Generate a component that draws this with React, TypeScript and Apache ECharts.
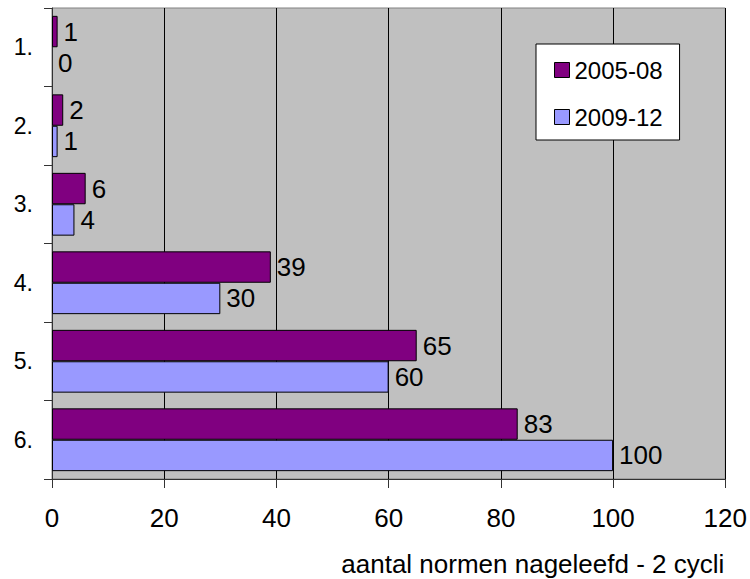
import React, { useEffect, useRef } from "react";
import * as echarts from "echarts";

const categories = ["1.", "2.", "3.", "4.", "5.", "6."];
const series2005 = [1, 2, 6, 39, 65, 83];
const series2009 = [0, 1, 4, 30, 60, 100];
const seriesNames = ["2005-08", "2009-12"];
const xAxisName = "aantal normen nageleefd - 2 cycli";

const FONT = "'Liberation Sans', Arial, sans-serif";

const toData = (arr: number[]) =>
  arr.map((v) => (v === 0 ? { value: v, itemStyle: { borderWidth: 0 } } : v));

export default function App() {
  const ref = useRef<HTMLDivElement>(null);
  useEffect(() => {
    if (!ref.current) return;
    const chart = echarts.init(ref.current, undefined, { renderer: "svg" });
    const labelStyle = {
      show: true,
      position: "right" as const,
      distance: 6,
      color: "#000",
      fontSize: 26,
      fontFamily: FONT,
    };
    chart.setOption({
      animation: false,
      backgroundColor: "#fff",
      textStyle: { fontFamily: FONT },
      grid: {
        left: 52,
        top: 8,
        right: 24,
        bottom: 100,
        show: true,
        backgroundColor: "#C0C0C0",
        borderColor: "#808080",
        borderWidth: 1,
      },
      legend: {
        orient: "vertical",
        left: 536,
        top: 44,
        padding: [14, 17, 11, 18],
        itemGap: 23,
        itemWidth: 15,
        itemHeight: 15,
        backgroundColor: "#fff",
        borderColor: "#000",
        borderWidth: 1,
        icon: "rect",
        itemStyle: { borderColor: "#000", borderWidth: 1 },
        textStyle: { fontSize: 24, lineHeight: 24, color: "#000", fontFamily: FONT },
        data: seriesNames,
      },
      xAxis: {
        type: "value",
        min: 0,
        max: 120,
        interval: 20,
        name: xAxisName,
        nameLocation: "end",
        nameGap: -1,
        nameTextStyle: {
          align: "right",
          verticalAlign: "top",
          fontSize: 26,
          color: "#000",
          fontFamily: FONT,
          padding: [72, 0, 0, 0],
        },
        axisLine: { show: true, lineStyle: { color: "#333", width: 1 } },
        axisTick: { show: true, length: 9, lineStyle: { color: "#333" } },
        axisLabel: { fontSize: 26, color: "#000", margin: 26, fontFamily: FONT },
        splitLine: { show: true, lineStyle: { color: "#000", width: 1 } },
      },
      yAxis: {
        type: "category",
        inverse: true,
        data: categories,
        axisLine: { show: true, lineStyle: { color: "#333", width: 1 } },
        axisTick: { show: true, length: 8, lineStyle: { color: "#333" } },
        axisLabel: { fontSize: 23, color: "#000", margin: 19, fontFamily: FONT },
        splitLine: { show: false },
      },
      series: [
        {
          name: seriesNames[0],
          type: "bar",
          data: toData(series2005),
          barCategoryGap: "20%",
          barGap: "0%",
          itemStyle: { color: "#800080", borderColor: "#000", borderWidth: 1 },
          label: labelStyle,
        },
        {
          name: seriesNames[1],
          type: "bar",
          data: toData(series2009),
          barCategoryGap: "20%",
          barGap: "0%",
          itemStyle: { color: "#9999FF", borderColor: "#000", borderWidth: 1 },
          label: labelStyle,
        },
      ],
    });
    return () => chart.dispose();
  }, []);
  return (
    <div
      ref={ref}
      style={{ position: "absolute", left: 0, top: 0, width: 750, height: 579 }}
    />
  );
}
